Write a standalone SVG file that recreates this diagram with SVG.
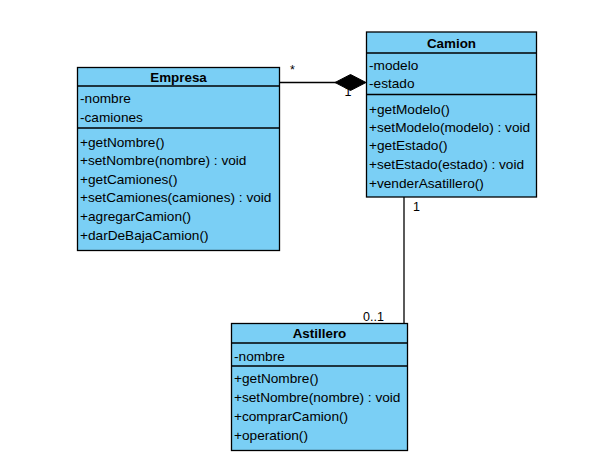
<svg xmlns="http://www.w3.org/2000/svg" width="591" height="463" viewBox="0 0 591 463">
  <style>
    .box { fill: #7ACFF5; stroke: #000; stroke-width: 1.3; }
    .sep { stroke: #000; stroke-width: 1.3; }
    .title { font-family: "Liberation Sans", Arial, sans-serif; font-size: 13.4px; font-weight: bold; text-anchor: middle; fill: #000; }
    .item { font-family: "Liberation Sans", Arial, sans-serif; font-size: 13.65px; fill: #000; }
    .lbl { font-family: "Liberation Sans", Arial, sans-serif; font-size: 12.5px; fill: #000; }
    .edge { stroke: #000; stroke-width: 1.3; fill: none; }
  </style>
  <rect width="591" height="463" fill="#fff"/>

  <g id="connectors">
    <!-- composition: Empresa owns many Camion -->
    <text class="lbl" x="290" y="74">*</text>
    <text class="lbl" x="344.5" y="96">1</text>
    <line class="edge" x1="279" y1="82.5" x2="336" y2="82.5"/>
    <polygon points="335,82.5 350.5,74.5 366,82.5 350.5,90.5" fill="#000" stroke="#000" stroke-width="1"/>
    <!-- association: Camion and Astillero -->
    <line class="edge" x1="404" y1="197" x2="404" y2="323"/>
    <text class="lbl" x="413" y="211">1</text>
    <text class="lbl" x="363" y="321">0..1</text>
  </g>

  <g id="Empresa">
    <rect class="box" x="77.5" y="67.5" width="202" height="183"/>
    <line class="sep" x1="77.5" y1="86" x2="279.5" y2="86"/>
    <line class="sep" x1="77.5" y1="128" x2="279.5" y2="128"/>
    <text class="title" x="178.5" y="82">Empresa</text>
    <text class="item" x="80" y="103">-nombre</text>
    <text class="item" x="80" y="122">-camiones</text>
    <text class="item" x="80" y="146.5">+getNombre()</text>
    <text class="item" x="80" y="165">+setNombre(nombre) : void</text>
    <text class="item" x="80" y="183.5">+getCamiones()</text>
    <text class="item" x="80" y="202">+setCamiones(camiones) : void</text>
    <text class="item" x="80" y="221">+agregarCamion()</text>
    <text class="item" x="80" y="240">+darDeBajaCamion()</text>
  </g>

  <g id="Camion">
    <rect class="box" x="366.5" y="32" width="170" height="165"/>
    <line class="sep" x1="366.5" y1="53" x2="536.5" y2="53"/>
    <line class="sep" x1="366.5" y1="94.5" x2="536.5" y2="94.5"/>
    <text class="title" x="451.5" y="48">Camion</text>
    <text class="item" x="369" y="69.5">-modelo</text>
    <text class="item" x="369" y="88">-estado</text>
    <text class="item" x="369" y="113.5">+getModelo()</text>
    <text class="item" x="369" y="131.5">+setModelo(modelo) : void</text>
    <text class="item" x="369" y="150">+getEstado()</text>
    <text class="item" x="369" y="168.5">+setEstado(estado) : void</text>
    <text class="item" x="369" y="188">+venderAsatillero()</text>
  </g>

  <g id="Astillero">
    <rect class="box" x="231.5" y="323.5" width="176" height="127"/>
    <line class="sep" x1="231.5" y1="343" x2="407.5" y2="343"/>
    <line class="sep" x1="231.5" y1="366" x2="407.5" y2="366"/>
    <text class="title" x="319.5" y="337.5">Astillero</text>
    <text class="item" x="234" y="360.5">-nombre</text>
    <text class="item" x="234" y="383">+getNombre()</text>
    <text class="item" x="234" y="401.5">+setNombre(nombre) : void</text>
    <text class="item" x="234" y="420.5">+comprarCamion()</text>
    <text class="item" x="234" y="439.5">+operation()</text>
  </g>
</svg>
